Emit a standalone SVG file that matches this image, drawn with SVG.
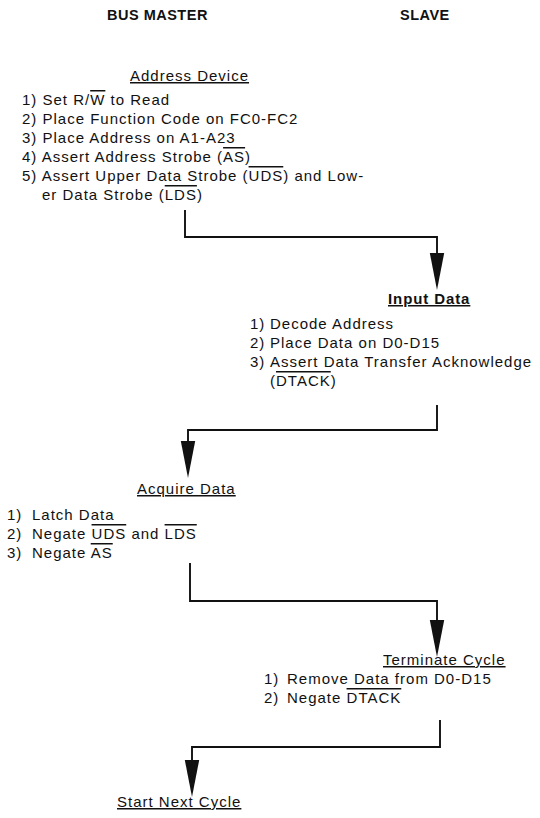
<svg xmlns="http://www.w3.org/2000/svg" width="540" height="818" viewBox="0 0 540 818">
<style>
text{font-family:"Liberation Sans",Arial,sans-serif;font-size:15px;letter-spacing:1px;fill:#111}
.hdr{font-weight:bold;font-size:14.5px;letter-spacing:0.5px}
.ttl{text-decoration:underline}
.b{font-weight:bold;letter-spacing:0.9px}
.ov{text-decoration:overline}
.conn{fill:none;stroke:#111;stroke-width:1.9;marker-end:url(#arr)}
</style>
<defs>
<marker id="arr" markerUnits="userSpaceOnUse" markerWidth="38" markerHeight="16" refX="31" refY="8" orient="auto"><path d="M0,0.8 L37,8 L0,15.2 Z" fill="#111"/></marker>
</defs>
<g id="headers">
<text class="hdr" x="107" y="20">BUS MASTER</text>
<text class="hdr" x="400" y="20">SLAVE</text>
</g>
<g id="address-device">
<text x="130" y="81" class="ttl">Address Device</text>
<text x="22" y="105">1) Set R/<tspan class="ov">W</tspan> to Read</text>
<text x="22" y="124">2) Place Function Code on FC0-FC2</text>
<text x="22" y="143">3) Place Address on A1-A23</text>
<text x="22" y="162">4) Assert Address Strobe (<tspan class="ov">AS</tspan>)</text>
<text x="22" y="181">5) Assert Upper Data Strobe (<tspan class="ov">UDS</tspan>) and Low-</text>
<text x="42" y="200">er Data Strobe (<tspan class="ov">LDS</tspan>)</text>
</g>
<g id="input-data">
<text x="388" y="304" class="ttl b">Input Data</text>
<text x="250" y="329">1)</text><text x="270" y="329">Decode Address</text>
<text x="250" y="348">2)</text><text x="270" y="348">Place Data on D0-D15</text>
<text x="250" y="367">3)</text><text x="270" y="367">Assert Data Transfer Acknowledge</text>
<text x="270" y="386">(<tspan class="ov">DTACK</tspan>)</text>
</g>
<g id="acquire-data">
<text x="137" y="494" class="ttl">Acquire Data</text>
<text x="7" y="520">1)</text><text x="32" y="520">Latch Data</text>
<text x="7" y="539">2)</text><text x="32" y="539">Negate <tspan class="ov">UDS</tspan> and <tspan class="ov">LDS</tspan></text>
<text x="7" y="558">3)</text><text x="32" y="558">Negate <tspan class="ov">AS</tspan></text>
</g>
<g id="terminate-cycle">
<text x="383" y="665" class="ttl">Terminate Cycle</text>
<text x="264" y="684">1)</text><text x="287" y="684">Remove Data from D0-D15</text>
<text x="264" y="703">2)</text><text x="287" y="703">Negate <tspan class="ov">DTACK</tspan></text>
</g>
<g id="start-next-cycle">
<text x="117" y="807" class="ttl">Start Next Cycle</text>
</g>
<g id="connectors">
<path class="conn" d="M185,210 V237 H437 V284"/>
<path class="conn" d="M437,405 V430 H188 V472"/>
<path class="conn" d="M190,563 V601 H437 V651"/>
<path class="conn" d="M440,720 V747 H192 V791"/>
</g>
</svg>
